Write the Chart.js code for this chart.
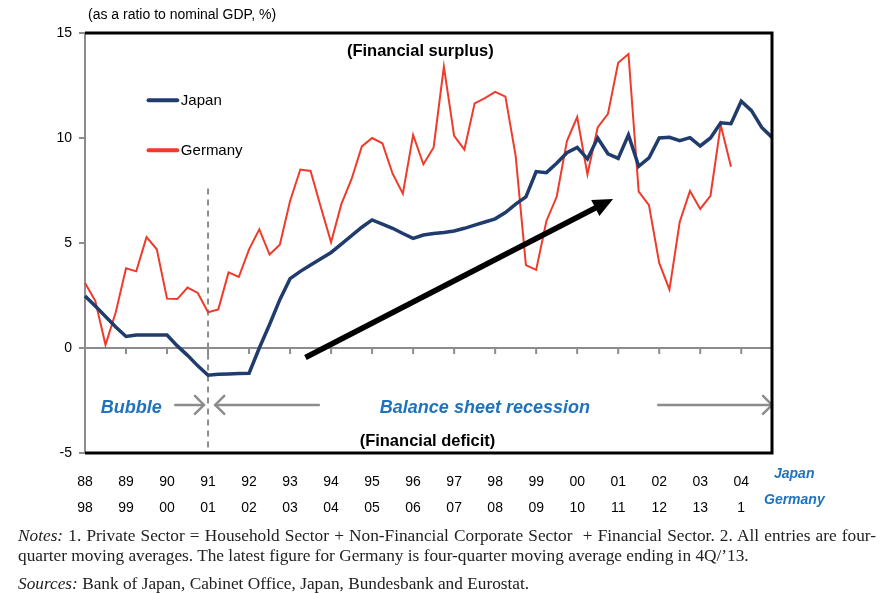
<!DOCTYPE html>
<html>
<head>
<meta charset="utf-8">
<script src="https://cdn.jsdelivr.net/npm/chart.js@4.4.1/dist/chart.umd.min.js"></script>
<style>
  html, body { margin: 0; padding: 0; background: #fff; }
  #wrap { position: relative; width: 887px; height: 594px; }
  #notes {
    position: absolute; left: 18px; top: 526px; width: 858px;
    font-family: "Liberation Serif", "Times New Roman", serif;
    font-size: 17.3px; color: #222; line-height: 20px; white-space: nowrap;
  }
  #notes .j { text-align: justify; text-align-last: justify; }
  #notes .src { margin-top: 8px; }
</style>
</head>
<body>
<div id="wrap">
  <canvas id="chart" width="887" height="594"></canvas>
  <div id="notes">
    <div class="j"><i>Notes:</i> 1. Private Sector = Household Sector + Non-Financial Corporate Sector &nbsp;+ Financial Sector. 2. All entries are four-</div>
    <div>quarter moving averages. The latest figure for Germany is four-quarter moving average ending in 4Q/’13.</div>
    <div class="src"><i>Sources:</i> Bank of Japan, Cabinet Office, Japan, Bundesbank and Eurostat.</div>
  </div>
</div>
<script>
// tick labels: Japan 1988-2004 on the first row, Germany 1998-2014 below
const jpYears = ['88', '89', '90', '91', '92', '93', '94', '95', '96', '97', '98', '99', '00', '01', '02', '03', '04'];
const deYears = ['98', '99', '00', '01', '02', '03', '04', '05', '06', '07', '08', '09', '10', '11', '12', '13', '1'];

// private sector financial surplus, % of nominal GDP, quarterly (4Q moving average)
const japan = [
  2.48, 2.0, 1.5, 1.0, 0.55, 0.62, 0.62, 0.62,
  0.62, 0.1, -0.35, -0.85, -1.3, -1.25, -1.24, -1.22,
  -1.2, 0.0, 1.12, 2.3, 3.3, 3.65, 3.95, 4.25,
  4.55, 4.95, 5.35, 5.75, 6.1, 5.9, 5.7, 5.45,
  5.22, 5.38, 5.45, 5.5, 5.57, 5.7, 5.85, 6.0,
  6.15, 6.45, 6.85, 7.2, 8.4, 8.35, 8.8, 9.3,
  9.55, 9.0, 10.0, 9.25, 9.03, 10.15, 8.65, 9.05,
  10.0, 10.03, 9.87, 10.02, 9.62, 10.0, 10.72, 10.68,
  11.75, 11.3, 10.5, 10.03
];
const germany = [
  3.1, 2.25, 0.15, 1.7, 3.8, 3.65, 5.28, 4.7,
  2.35, 2.33, 2.88, 2.62, 1.7, 1.84, 3.6, 3.38,
  4.7, 5.65, 4.45, 4.92, 7.0, 8.5, 8.43, 6.7,
  5.03, 6.85, 8.05, 9.6, 10.0, 9.75, 8.3, 7.35,
  10.15, 8.75, 9.55, 13.4, 10.1, 9.45, 11.65, 11.9,
  12.2, 11.97, 9.15, 3.95, 3.72, 6.05, 7.2, 9.85,
  11.0, 8.27, 10.5, 11.15, 13.58, 14.0, 7.45, 6.8,
  4.05, 2.78, 6.0, 7.48, 6.62, 7.25, 10.62, 8.63
];

const quarters = [];
jpYears.forEach(y => { for (let q = 1; q <= 4; q++) quarters.push(y + 'Q' + q); });

const BLUE_TXT = '#1f72bd';
const GREY = '#8c8c8c';
const SANS = '"Liberation Sans", Arial, sans-serif';

function arrowHead(ctx, x1, y1, x2, y2, len, wid, filled) {
  const a = Math.atan2(y2 - y1, x2 - x1);
  const bx = x2 - len * Math.cos(a), by = y2 - len * Math.sin(a);
  const px = Math.sin(a) * wid / 2, py = -Math.cos(a) * wid / 2;
  ctx.beginPath();
  ctx.moveTo(bx + px, by + py);
  ctx.lineTo(x2, y2);
  ctx.lineTo(bx - px, by - py);
  if (filled) { ctx.closePath(); ctx.fill(); } else ctx.stroke();
}

const decorations = {
  id: 'decorations',
  beforeDatasetsDraw(chart) {
    const { ctx, chartArea: a, scales: { x, y } } = chart;
    const y0 = y.getPixelForValue(0);
    ctx.save();
    ctx.strokeStyle = GREY;
    ctx.lineWidth = 2;
    ctx.beginPath();
    ctx.moveTo(a.left, y0); ctx.lineTo(a.right, y0);
    for (let i = 4; i < quarters.length; i += 4) {
      const px = x.getPixelForValue(i);
      ctx.moveTo(px, y0); ctx.lineTo(px, y0 + 6);
    }
    ctx.stroke();
    // 1991 divider
    const xd = x.getPixelForValue(12);
    ctx.setLineDash([6, 5]);
    ctx.beginPath();
    ctx.moveTo(xd, y.getPixelForValue(7.6)); ctx.lineTo(xd, a.bottom);
    ctx.stroke();
    ctx.restore();
  },
  afterDatasetsDraw(chart) {
    const { ctx, chartArea: a, scales: { x, y } } = chart;
    const X = v => x.getPixelForValue(v), Y = v => y.getPixelForValue(v);
    ctx.save();

    // trend arrow
    const x1 = X(21.5), y1 = Y(-0.45), x2 = X(51.5), y2 = Y(7.1);
    const ang = Math.atan2(y2 - y1, x2 - x1);
    ctx.strokeStyle = '#000'; ctx.fillStyle = '#000'; ctx.lineWidth = 5.5;
    ctx.beginPath();
    ctx.moveTo(x1, y1); ctx.lineTo(x2 - 14 * Math.cos(ang), y2 - 14 * Math.sin(ang));
    ctx.stroke();
    arrowHead(ctx, x1, y1, x2, y2, 20, 18, true);

    // period arrows
    const ya = Y(-2.71);
    ctx.strokeStyle = GREY; ctx.lineWidth = 2.5; ctx.lineCap = 'round';
    [[8.8, 11.6], [22.8, 12.7], [55.9, 67]].forEach(([s, e]) => {
      ctx.beginPath(); ctx.moveTo(X(s), ya); ctx.lineTo(X(e), ya); ctx.stroke();
      arrowHead(ctx, X(s), ya, X(e), ya, 9, 18, false);
    });

    ctx.fillStyle = BLUE_TXT;
    ctx.font = 'italic bold 18px ' + SANS;
    ctx.textAlign = 'center'; ctx.textBaseline = 'middle';
    ctx.fillText('Bubble', X(4.5), Y(-2.86));
    ctx.fillText('Balance sheet recession', X(39), Y(-2.86));

    ctx.fillStyle = '#000';
    ctx.font = 'bold 16.5px ' + SANS;
    ctx.fillText('(Financial surplus)', X(32.7), Y(14.1));
    ctx.fillText('(Financial deficit)', X(33.4), Y(-4.43));

    // legend inside the plot
    ctx.font = '15px ' + SANS;
    ctx.textAlign = 'left';
    chart.data.datasets.forEach((ds, i) => {
      const ly = Y(11.8 - i * 2.38);
      ctx.strokeStyle = ds.borderColor; ctx.lineWidth = 4; ctx.lineCap = 'round';
      ctx.beginPath(); ctx.moveTo(X(6.2), ly); ctx.lineTo(X(9.0), ly); ctx.stroke();
      ctx.fillStyle = '#000';
      ctx.fillText(ds.label, X(9.35), ly + 1);
    });
    ctx.restore();
  },
  afterDraw(chart) {
    const { ctx, chartArea: a } = chart;
    ctx.save();
    ctx.strokeStyle = '#000'; ctx.lineWidth = 3;
    ctx.beginPath();
    ctx.moveTo(a.left, a.top); ctx.lineTo(a.right, a.top);
    ctx.lineTo(a.right, a.bottom); ctx.lineTo(a.left, a.bottom);
    ctx.stroke();
    ctx.fillStyle = '#000';
    ctx.font = '14px ' + SANS;
    ctx.textBaseline = 'middle';
    ctx.fillText('(as a ratio to nominal GDP, %)', 88, 15);
    ctx.fillStyle = BLUE_TXT;
    ctx.font = 'italic bold 14px ' + SANS;
    ctx.fillText('Japan', 774, 474);
    ctx.fillText('Germany', 764, 500);
    ctx.restore();
  }
};

new Chart(document.getElementById('chart').getContext('2d'), {
  type: 'line',
  data: {
    labels: quarters,
    datasets: [
      { label: 'Japan', data: japan, borderColor: '#1f3c6c', borderWidth: 3.5, pointRadius: 0, tension: 0 },
      { label: 'Germany', data: germany, borderColor: '#ee3b2c', borderWidth: 2, pointRadius: 0, tension: 0 }
    ]
  },
  options: {
    responsive: false,
    animation: false,
    layout: { padding: { left: 0, top: 33, right: 115, bottom: 81 } },
    plugins: { legend: { display: false }, tooltip: { enabled: false } },
    scales: {
      x: {
        offset: false,
        grid: { display: false },
        border: { display: false },
        afterFit: s => { s.height = 60; },
        ticks: {
          autoSkip: false, maxRotation: 0, padding: 8,
          color: '#000', font: { family: SANS, size: 14, lineHeight: 1.85 },
          callback: (v, i) => i % 4 === 0 ? [jpYears[i / 4], deYears[i / 4]] : ''
        }
      },
      y: {
        min: -5, max: 15,
        afterFit: s => { s.width = 85; },
        border: { color: GREY, width: 2 },
        grid: { drawOnChartArea: false, drawTicks: true, tickLength: 6, color: GREY, lineWidth: 2 },
        ticks: { stepSize: 5, padding: 7, color: '#000', font: { family: SANS, size: 14 } }
      }
    }
  },
  plugins: [decorations]
});
</script>
</body>
</html>
